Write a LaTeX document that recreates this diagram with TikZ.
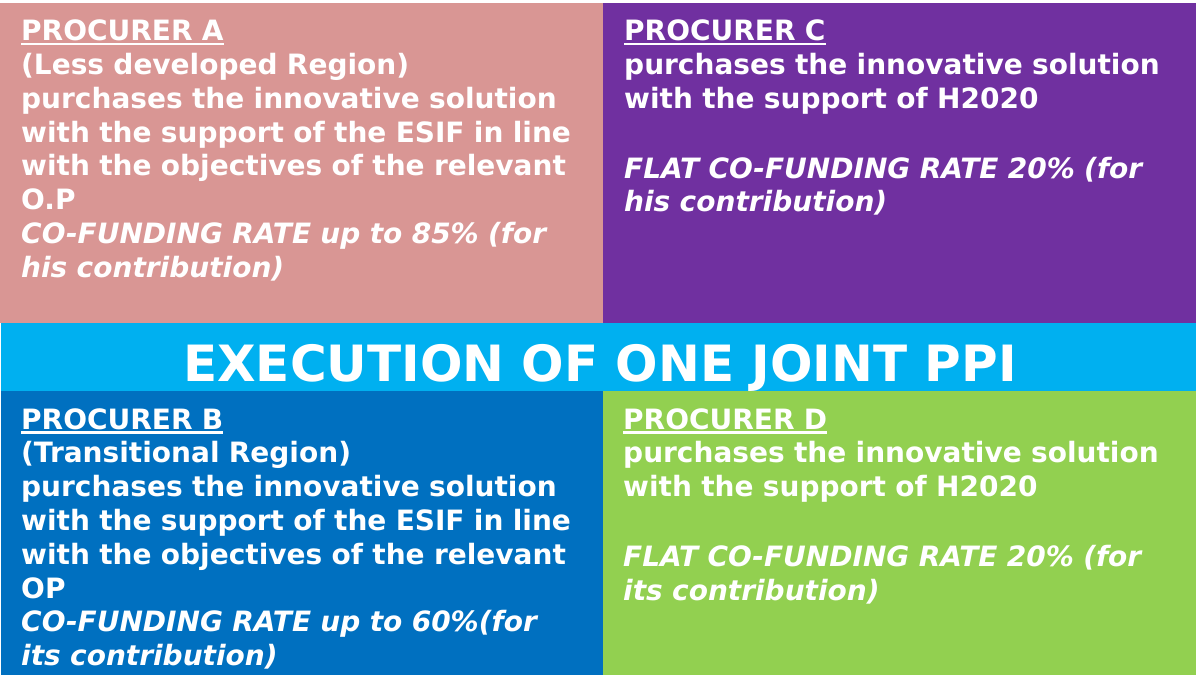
\documentclass[tikz,border=0pt]{standalone}
\usepackage{fontspec}
\setmainfont{DejaVu Sans}
\definecolor{pinkA}{HTML}{D99694}
\definecolor{purpleC}{HTML}{7030A0}
\definecolor{cyanband}{HTML}{00B0F0}
\definecolor{blueB}{HTML}{0070C0}
\definecolor{greenD}{HTML}{92D050}
\newcommand\ulhead[1]{\setbox0\hbox{#1}\rlap{\vrule height -2.2pt depth 4.6pt width \wd0}\box0}
\tikzset{
  paneltext/.style={anchor=base west, inner sep=0pt, text width=590pt, align=left,
    text=white, font=\fontsize{28}{33.8}\selectfont\bfseries},
  titletext/.style={anchor=base, inner sep=0pt, text=white,
    font=\fontsize{50}{56}\selectfont\bfseries}
}
\begin{document}
\begin{tikzpicture}[x=1pt,y=-1pt]
\useasboundingbox (0,0) rectangle (1196,675);
\fill[white] (0,0) rectangle (1196,675);
\fill[pinkA] (0,3) rectangle (603,323);
\fill[purpleC] (603,3) rectangle (1196,323);
\fill[cyanband] (1,323) rectangle (1196,391);
\fill[blueB] (1,391) rectangle (603,675);
\fill[greenD] (603,391) rectangle (1196,675);

\node[paneltext] (pa) at (21,40.7) {\ulhead{PROCURER A}\\
(Less developed Region)\\
purchases the innovative solution\\
with the support of the ESIF in line\\
with the objectives of the relevant\\
O.P\\
\itshape CO-FUNDING RATE up to 85\% (for\\
\itshape his contribution)};

\node[paneltext] (pc) at (624,40.7) {\ulhead{PROCURER C}\\
purchases the innovative solution\\
with the support of H2020\\[36pt]
\itshape FLAT CO-FUNDING RATE 20\% (for\\
\itshape his contribution)};

\node[titletext] (title) at (600,381) {EXECUTION OF ONE JOINT PPI};

\node[paneltext] (pb) at (21,429) {\ulhead{PROCURER B}\\
(Transitional Region)\\
purchases the innovative solution\\
with the support of the ESIF in line\\
with the objectives of the relevant\\
OP\\
\itshape CO-FUNDING RATE up to 60\%(for\\
\itshape its contribution)};

\node[paneltext] (pd) at (623,429) {\ulhead{PROCURER D}\\
purchases the innovative solution\\
with the support of H2020\\[36pt]
\itshape FLAT CO-FUNDING RATE 20\% (for\\
\itshape its contribution)};
\end{tikzpicture}
\end{document}
